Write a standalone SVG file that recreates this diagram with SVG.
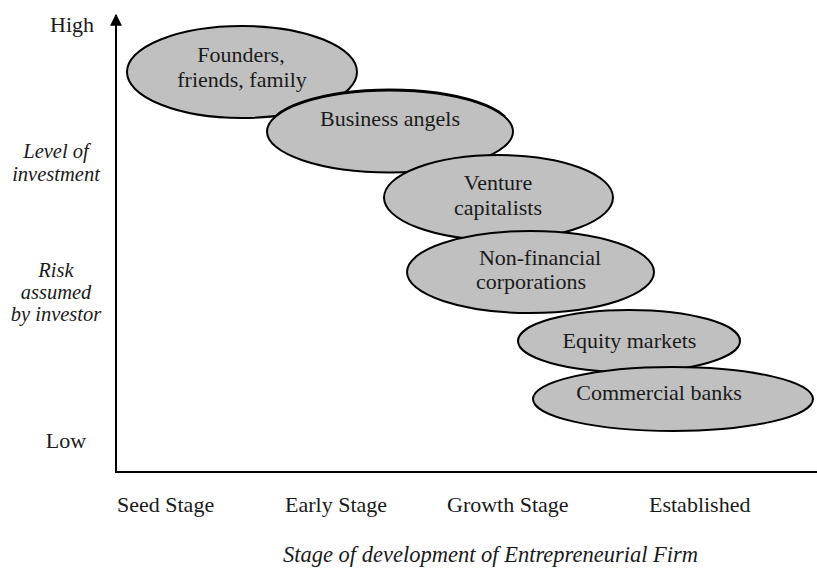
<svg xmlns="http://www.w3.org/2000/svg" width="817" height="572" viewBox="0 0 817 572">
  <style>
    text { font-family: "Liberation Serif", "Times New Roman", serif; fill: #1a1a1a; font-size: 22px; }
    .it { font-style: italic; font-size: 20.5px; }
    .title { font-style: italic; font-size: 22.5px; }
    .mid { text-anchor: middle; }
    .node ellipse { fill: #c0c0c0; stroke: #000; stroke-width: 2; }
    .node .rim { fill: none; stroke: #000; stroke-width: 2; }
    .axis { stroke: #000; stroke-width: 2; fill: none; }
  </style>
  <defs>
    <marker id="arrow" viewBox="0 0 10 10" refX="9" refY="5" markerWidth="6" markerHeight="6" orient="auto" markerUnits="strokeWidth">
      <path d="M0,0 L10,5 L0,10 z" fill="#000"/>
    </marker>
    <clipPath id="upper-rim">
      <rect x="270" y="80" width="245" height="36"/>
    </clipPath>
  </defs>

  <rect width="817" height="572" fill="#fff"/>

  <!-- axes -->
  <g id="connectors">
    <path class="axis" d="M116,473 L116,15" marker-end="url(#arrow)"/>
    <path class="axis" d="M115,472 L817,472"/>
  </g>

  <!-- vertical axis labels -->
  <g id="y-labels">
    <text x="72" y="32" class="mid">High</text>
    <text x="56" y="158" class="mid it">Level of</text>
    <text x="56" y="181" class="mid it">investment</text>
    <text x="56" y="277" class="mid it">Risk</text>
    <text x="56" y="299" class="mid it">assumed</text>
    <text x="56" y="321" class="mid it">by investor</text>
    <text x="66" y="448" class="mid">Low</text>
  </g>

  <!-- horizontal axis labels -->
  <g id="x-labels">
    <text x="117" y="512">Seed Stage</text>
    <text x="285" y="512">Early Stage</text>
    <text x="447" y="512">Growth Stage</text>
    <text x="649" y="512">Established</text>
    <text x="283" y="562" class="title">Stage of development of Entrepreneurial Firm</text>
  </g>

  <!-- investor groups -->
  <g id="founders" class="node">
    <ellipse cx="242" cy="72" rx="115" ry="46"/>
    <text x="241" y="62" class="mid">Founders,</text>
    <text x="242" y="87" class="mid">friends, family</text>
  </g>
  <g id="business-angels" class="node">
    <ellipse cx="390" cy="131.5" rx="123" ry="41"/>
    <!-- heavier upper rim -->
    <ellipse class="rim" cx="390" cy="130.5" rx="122.5" ry="41" clip-path="url(#upper-rim)"/>
    <text x="390" y="126" class="mid">Business angels</text>
  </g>
  <g id="venture-capitalists" class="node">
    <ellipse cx="498.5" cy="197.5" rx="114.5" ry="42.5"/>
    <text x="498" y="190" class="mid">Venture</text>
    <text x="498" y="215" class="mid">capitalists</text>
  </g>
  <g id="non-financial" class="node">
    <ellipse cx="530.5" cy="272" rx="123.5" ry="41"/>
    <text x="540" y="265" class="mid">Non-financial</text>
    <text x="531" y="289" class="mid">corporations</text>
  </g>
  <g id="equity-markets" class="node">
    <ellipse cx="629" cy="341" rx="111" ry="31"/>
    <text x="629.5" y="348" class="mid">Equity markets</text>
  </g>
  <g id="commercial-banks" class="node">
    <ellipse cx="673" cy="399" rx="140" ry="32"/>
    <text x="659" y="400" class="mid">Commercial banks</text>
  </g>
</svg>
